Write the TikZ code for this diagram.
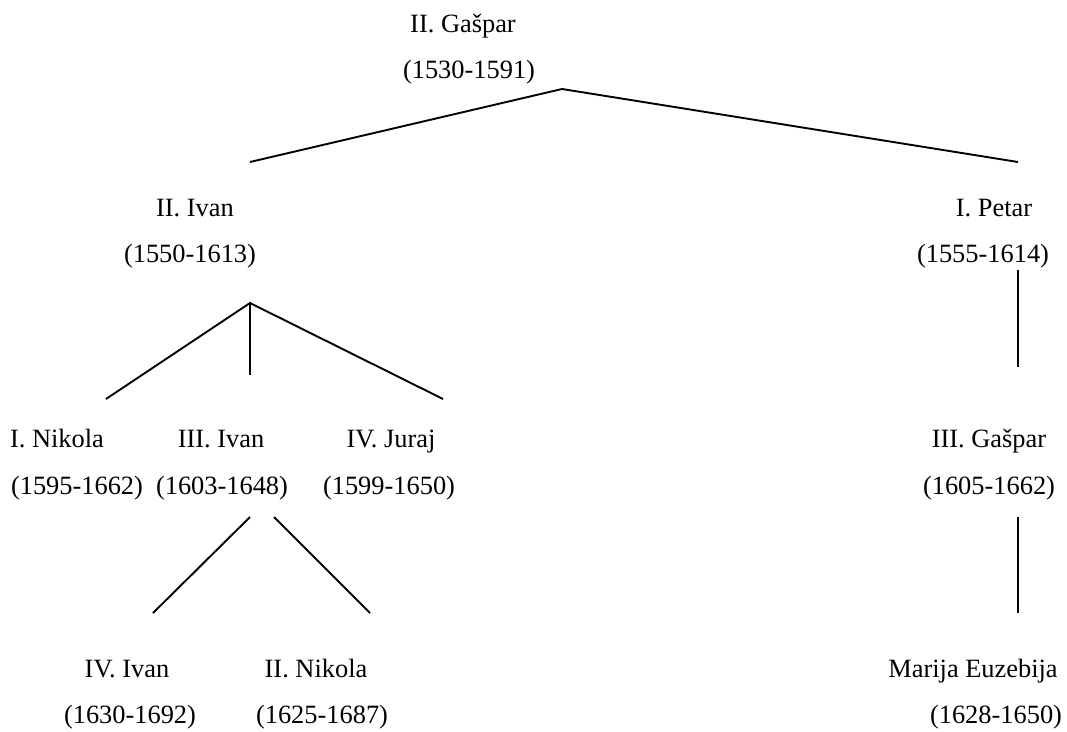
\documentclass[tikz,border=0pt]{standalone}
\usepackage{fontspec}
\setmainfont{Liberation Serif}
\begin{document}
\begin{tikzpicture}[x=1pt,y=-1pt,
  lbl/.style={anchor=base,inner sep=0pt,font=\fontsize{26.4}{30}\selectfont},
  link/.style={line width=1.9pt}]
\useasboundingbox[fill=white] (0,0) rectangle (1067,731);
% names and dates
\node[lbl] (g2n) at (463,32) {II. Gašpar};
\node[lbl] (g2d) at (469,78) {(1530-1591)};
\node[lbl] (i2n) at (195,216) {II. Ivan};
\node[lbl] (i2d) at (190,262) {(1550-1613)};
\node[lbl] (p1n) at (994,216) {I. Petar};
\node[lbl] (p1d) at (983,262) {(1555-1614)};
\node[lbl] (n1n) at (57,447) {I. Nikola};
\node[lbl] (n1d) at (77,494) {(1595-1662)};
\node[lbl] (i3n) at (221,447) {III. Ivan};
\node[lbl] (i3d) at (222,494) {(1603-1648)};
\node[lbl] (j4n) at (391,447) {IV. Juraj};
\node[lbl] (j4d) at (389,494) {(1599-1650)};
\node[lbl] (g3n) at (989,447) {III. Gašpar};
\node[lbl] (g3d) at (989,494) {(1605-1662)};
\node[lbl] (i4n) at (127,677) {IV. Ivan};
\node[lbl] (i4d) at (130,723) {(1630-1692)};
\node[lbl] (n2n) at (316,677) {II. Nikola};
\node[lbl] (n2d) at (322,723) {(1625-1687)};
\node[lbl] (mn) at (973,677) {Marija Euzebija};
\node[lbl] (md) at (996,723) {(1628-1650)};
% connector end points
\coordinate (g2o) at (562,89);
\coordinate (i2i) at (250,162);
\coordinate (p1i) at (1018,162);
\coordinate (i2o) at (250,303);
\coordinate (n1i) at (106,399);
\coordinate (i3i) at (250,375);
\coordinate (j4i) at (443,399);
\coordinate (p1o) at (1018,270);
\coordinate (g3i) at (1018,367);
\coordinate (i3oa) at (250,517);
\coordinate (i3ob) at (274,517);
\coordinate (i4i) at (153,613);
\coordinate (n2i) at (370,613);
\coordinate (g3o) at (1018,517);
\coordinate (mi) at (1018,613);
% connectors
\draw[link] (i2i) -- (g2o) -- (p1i);
\draw[link] (n1i) -- (i2o) -- (j4i);
\draw[link] (i2o) -- (i3i);
\draw[link] (p1o) -- (g3i);
\draw[link] (i3oa) -- (i4i);
\draw[link] (i3ob) -- (n2i);
\draw[link] (g3o) -- (mi);
\end{tikzpicture}
\end{document}
